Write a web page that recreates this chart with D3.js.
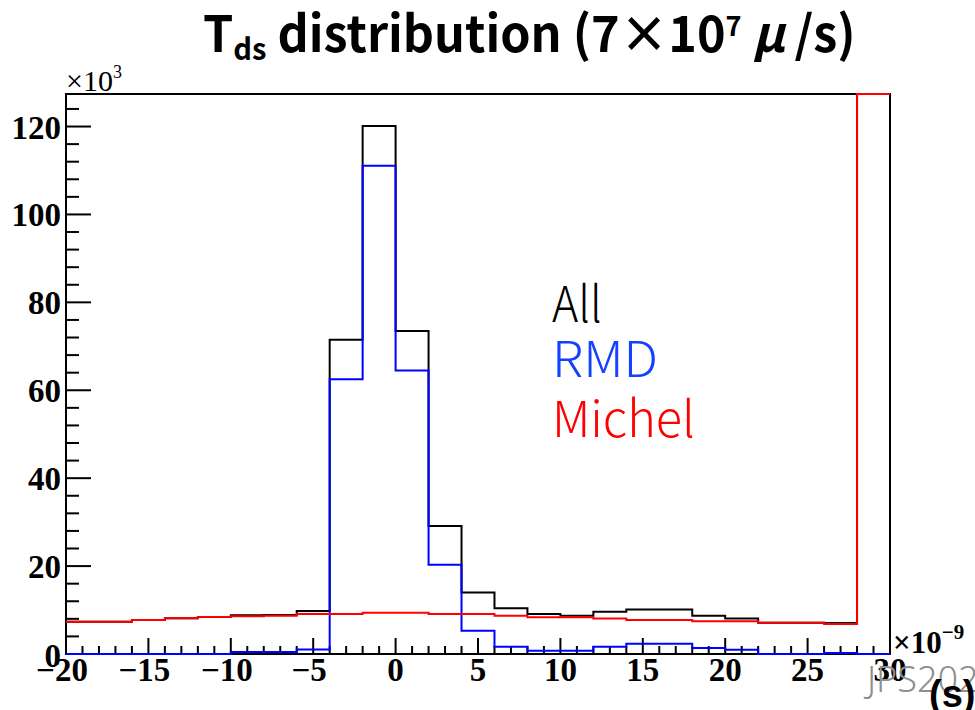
<!DOCTYPE html>
<html>
<head>
<meta charset="utf-8">
<script src="https://cdn.jsdelivr.net/npm/d3@7"></script>
<style>
  html, body { margin: 0; padding: 0; background: #fff; }
  svg { display: block; }
</style>
</head>
<body>
<svg id="chart" width="975" height="710"></svg>
<script>
// ---- Data (time in 1e-9 s, counts in 1e3) ----
const binLeft = [-20,-18,-16,-14,-12,-10,-8,-6,-4,-2,0,2,4,6,8,10,12,14,16,18,20,22,24,26,28];
const binWidth = 2;
const allCounts    = [7.35,7.35,7.74,8.12,8.42,8.8,8.9,9.8,71.5,120.1,73.5,29.1,14.0,10.4,9.1,8.73,9.64,10.1,10.1,8.73,8.05,7.13,7.13,7.05,150];
const rmdCounts    = [0,0,0,0,0,0.46,0.46,1.0,62.5,111.1,64.5,20.3,5.3,1.67,0.76,0.76,1.67,2.35,2.35,1.37,0.99,0,0,0.2,0];
const michelCounts = [7.35,7.35,7.74,8.12,8.42,8.58,8.73,9.1,9.1,9.4,9.4,9.1,9.1,8.73,8.35,8.35,8.05,7.74,7.74,7.44,7.44,7.13,7.13,6.83,150];
const xTickLabels = [-20,-15,-10,-5,0,5,10,15,20,25,30];
const yTickLabels = [0,20,40,60,80,100,120];
const legendLabels = ["All","RMD","Michel"];

const svg = d3.select("#chart");
const L = 66, R = 890, T = 94, B = 654;
const xDomain = [-20, 30], yMax = 127.4;
const x = d3.scaleLinear().domain(xDomain).range([L, R]);
const y = d3.scaleLinear().domain([0, yMax]).range([B, T]);
const SERIF = "'Liberation Serif', 'Times New Roman', serif";

function fitX(sel, x0, width) {
  const w = sel.node().getBBox().width;
  sel.attr("x", 0).attr("transform", `translate(${x0},0) scale(${width / w},1)`);
}

// Frame
svg.append("rect").attr("x", L).attr("y", T).attr("width", R - L).attr("height", B - T)
  .attr("fill", "none").attr("stroke", "#000").attr("stroke-width", 2);

// X axis ticks (inward)
const xMinor = d3.range(-20, 31, 1);
svg.append("g").selectAll("line").data(xMinor).join("line")
  .attr("x1", d => x(d)).attr("x2", d => x(d))
  .attr("y1", B).attr("y2", d => B - (d % 5 === 0 ? 16 : 8))
  .attr("stroke", "#000").attr("stroke-width", 2);
svg.append("g").selectAll("text").data(xTickLabels).join("text")
  .attr("x", d => x(d) - (d < 0 ? 4 : 0)).attr("y", 681)
  .attr("text-anchor", "middle")
  .attr("font-family", SERIF).attr("font-weight", "bold").attr("font-size", 33)
  .text(d => d < 0 ? "\u2212" + Math.abs(d) : d);

// Y axis ticks (inward)
const yMinor = d3.range(0, 125, 4);
svg.append("g").selectAll("line").data(yMinor).join("line")
  .attr("y1", d => y(d)).attr("y2", d => y(d))
  .attr("x1", L).attr("x2", d => L + (d % 20 === 0 ? 25 : 13))
  .attr("stroke", "#000").attr("stroke-width", 2);
svg.append("g").selectAll("text").data(yTickLabels).join("text")
  .attr("x", 61).attr("y", d => y(d) + (d === 0 ? 13 : 12))
  .attr("text-anchor", "end")
  .attr("font-family", SERIF).attr("font-weight", "bold").attr("font-size", 33)
  .text(d => d);

// x10^3
const e3 = svg.append("text").attr("x", 66).attr("y", 91)
  .attr("font-family", SERIF).attr("font-size", 30);
e3.append("tspan").text("\u00d710");
e3.append("tspan").attr("font-size", 18).attr("dy", -13).text("3");

// x10^-9
const e9 = svg.append("text").attr("x", 893).attr("y", 653)
  .attr("font-family", SERIF).attr("font-weight", "bold").attr("font-size", 31);
e9.append("tspan").text("\u00d710");
e9.append("tspan").attr("font-size", 21).attr("dy", -14).text("\u22129");

// Watermark
svg.append("text").attr("x", 867).attr("y", 692)
  .attr("font-family", "Noto Sans").attr("font-weight", 300).attr("font-size", 36).attr("fill", "#8e8e8e")
  .text("JPS2024");

// (s) axis title
svg.append("text").attr("x", 929).attr("y", 707)
  .attr("font-family", "Liberation Sans").attr("font-weight", "bold").attr("font-size", 38)
  .text("(s)");

// Histograms
function histPath(vals) {
  const p = d3.path();
  vals.forEach((v, i) => {
    const vy = y(Math.min(v, yMax));
    const x0 = x(binLeft[i]), x1 = x(binLeft[i] + binWidth);
    if (i === 0) p.moveTo(x0, vy); else p.lineTo(x0, vy);
    p.lineTo(x1, vy);
  });
  return p.toString();
}
const series = [
  {vals: allCounts, color: "#000000"},
  {vals: rmdCounts, color: "#0000ff"},
  {vals: michelCounts, color: "#ff0000"}
];
svg.append("g").selectAll("path").data(series).join("path")
  .attr("d", d => histPath(d.vals))
  .attr("fill", "none").attr("stroke", d => d.color).attr("stroke-width", 2);

// Legend
const legendColors = ["#000000", "#1440ff", "#ff0000"];
const legendY = [322, 377, 437];
const legendW = [50, 106, 143];
legendLabels.forEach((lab, i) => {
  const t = svg.append("text").attr("y", legendY[i])
    .attr("font-family", "Noto Sans CJK JP").attr("font-weight", 300).attr("font-size", 50)
    .attr("fill", legendColors[i]).text(lab);
  fitX(t, 552, legendW[i]);
});

// Title
const title = svg.append("text").attr("y", 52)
  .attr("font-family", "Noto Sans CJK JP").attr("font-weight", "bold").attr("font-size", 50);
title.append("tspan").text("T");
title.append("tspan").attr("font-size", 30).attr("dy", 8).text("ds");
title.append("tspan").attr("dy", -8).text(" distribution (7\u00d710");
title.append("tspan").attr("font-size", 28).attr("dy", -16).text("7");
title.append("tspan").attr("dy", 16).attr("font-style", "italic").text(" \u03bc");
title.append("tspan").text("\u2009/s)");
fitX(title, 203, 653);
</script>
</body>
</html>
